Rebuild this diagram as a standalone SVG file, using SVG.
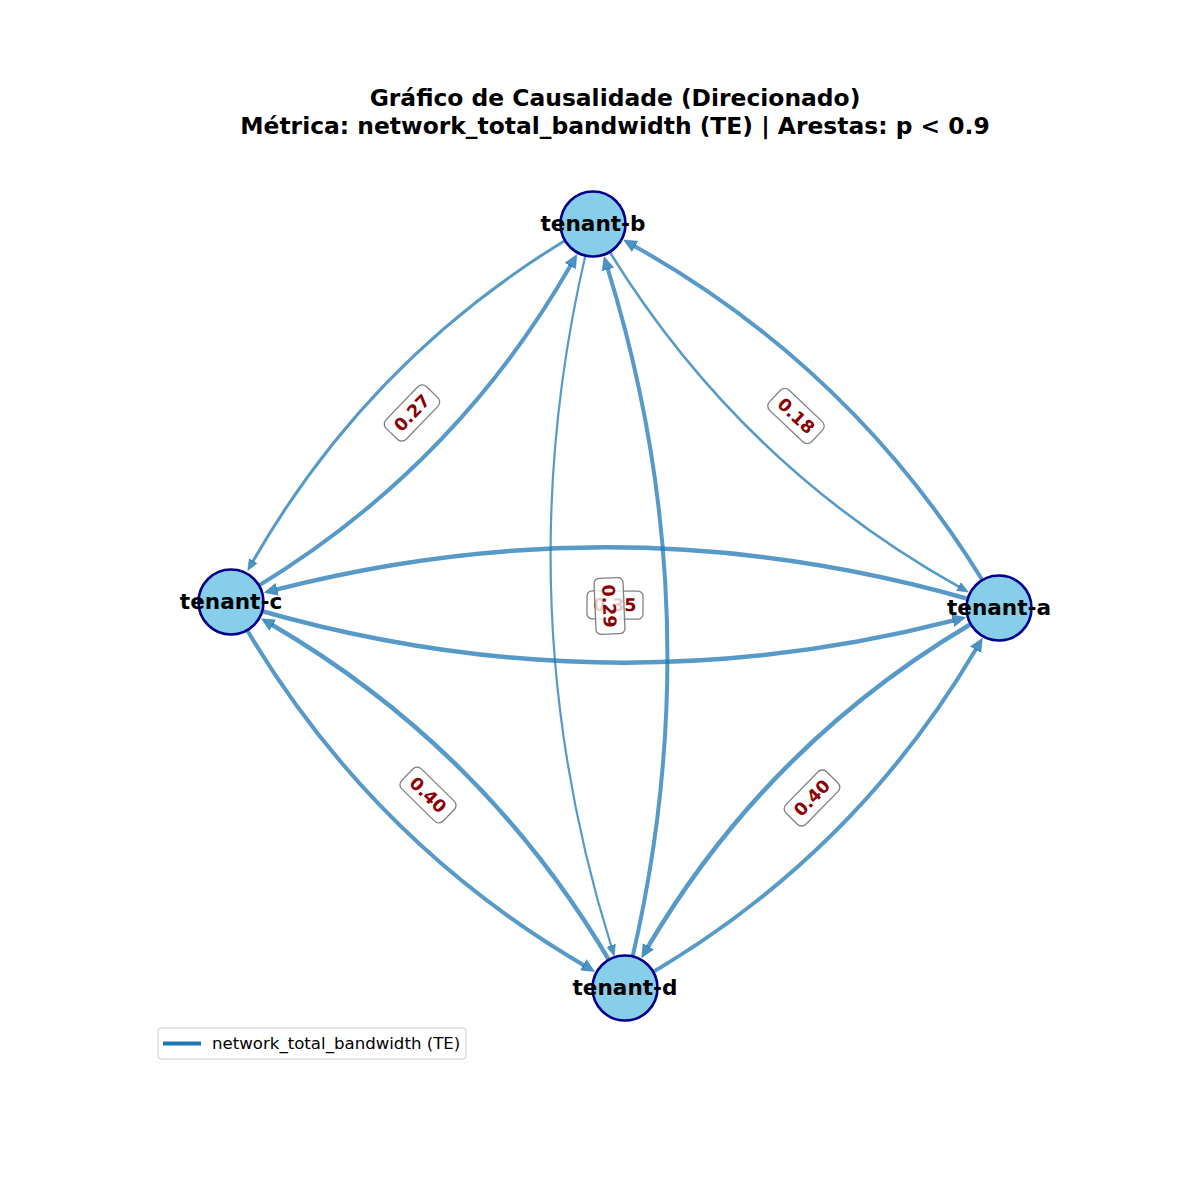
<svg xmlns="http://www.w3.org/2000/svg" width="1200" height="1200" viewBox="0 0 1200 1200">
  <style>
    .title { font-family: "DejaVu Sans", "Liberation Sans", sans-serif; font-weight: bold; font-size: 23.4px; fill: #000; text-anchor: middle; }
    .edge { fill: none; stroke: #1f77b4; stroke-opacity: 0.75; }
    .node circle { fill: #87ceeb; stroke: #00008b; stroke-width: 2.6; }
    .node text { font-family: "DejaVu Sans", "Liberation Sans", sans-serif; font-weight: bold; font-size: 21.6px; fill: #000; text-anchor: middle; }
    .elabel rect { fill: #ffffff; fill-opacity: 0.8; stroke: #808080; stroke-width: 1.3; }
    .elabel text { font-family: "DejaVu Sans", "Liberation Sans", sans-serif; font-weight: bold; font-size: 17.5px; fill: #8b0000; text-anchor: middle; }
    .legend text { font-family: "DejaVu Sans", "Liberation Sans", sans-serif; font-size: 16.6px; fill: #000; }
  </style>
  <defs>
    <marker id="headL" markerUnits="userSpaceOnUse" markerWidth="15" markerHeight="14" refX="1" refY="7" orient="auto" viewBox="0 0 15 14">
      <path d="M0,1 L13,7 L0,13 z" fill="#1f77b4" fill-opacity="0.8" stroke="#1f77b4" stroke-opacity="0.5" stroke-width="1" stroke-linejoin="round"/>
    </marker>
    <marker id="headS" markerUnits="userSpaceOnUse" markerWidth="13" markerHeight="12" refX="1" refY="6" orient="auto" viewBox="0 0 13 12">
      <path d="M0,1.5 L11,6 L0,10.5 z" fill="#1f77b4" fill-opacity="0.8" stroke="#1f77b4" stroke-opacity="0.5" stroke-width="1" stroke-linejoin="round"/>
    </marker>
  </defs>

  <rect width="1200" height="1200" fill="#ffffff"/>

  <text class="title" x="615" y="106">Gráfico de Causalidade (Direcionado)</text>
  <text class="title" x="615" y="134">Métrica: network_total_bandwidth (TE) | Arestas: p &lt; 0.9</text>

  <!-- directed edges, arc3 curves between node centres -->
  <g id="edges">
    <path id="e-a-c" class="edge" stroke-width="4.5" marker-end="url(#headL)" d="M999,608 Q638.4,496.7 276.1,589.6"/>
    <path id="e-c-a" class="edge" stroke-width="4.5" marker-end="url(#headL)" d="M231,602 Q591.6,713.3 953.9,620.4"/>
    <path id="e-b-c" class="edge" stroke-width="3" marker-end="url(#headS)" d="M593,224 Q375.3,347.4 252.7,561.8"/>
    <path id="e-c-b" class="edge" stroke-width="4" marker-end="url(#headL)" d="M231,602 Q448.3,478.9 570.8,265.1"/>
    <path id="e-b-a" class="edge" stroke-width="2.6" marker-end="url(#headS)" d="M593,224 Q727.2,457.4 959.5,587.1"/>
    <path id="e-a-b" class="edge" stroke-width="4" marker-end="url(#headL)" d="M999,608 Q865.3,375.5 634.2,245.9"/>
    <path id="e-b-d" class="edge" stroke-width="2.2" marker-end="url(#headS)" d="M593,224 Q499.8,589.5 611.3,946.4"/>
    <path id="e-d-b" class="edge" stroke-width="4" marker-end="url(#headL)" d="M625,988 Q717.8,624 607.6,268.4"/>
    <path id="e-c-d" class="edge" stroke-width="4" marker-end="url(#headL)" d="M231,602 Q358.7,833.5 584.2,965.4"/>
    <path id="e-d-c" class="edge" stroke-width="4.5" marker-end="url(#headL)" d="M625,988 Q497.3,756.5 271.9,624.7"/>
    <path id="e-a-d" class="edge" stroke-width="4.5" marker-end="url(#headL)" d="M999,608 Q775.6,730.6 647.8,947.2"/>
    <path id="e-d-a" class="edge" stroke-width="4" marker-end="url(#headL)" d="M625,988 Q848.4,865.4 976.2,648.8"/>
  </g>

  <!-- nodes -->
  <g id="node-tenant-a" class="node">
    <circle cx="999" cy="608" r="32.5"/>
    <text x="999" y="615">tenant-a</text>
  </g>
  <g id="node-tenant-b" class="node">
    <circle cx="593" cy="224" r="32.5"/>
    <text x="593" y="231">tenant-b</text>
  </g>
  <g id="node-tenant-c" class="node">
    <circle cx="231" cy="602" r="32.5"/>
    <text x="231" y="609">tenant-c</text>
  </g>
  <g id="node-tenant-d" class="node">
    <circle cx="625" cy="988" r="32.5"/>
    <text x="625" y="995">tenant-d</text>
  </g>

  <!-- edge weight labels at chord midpoints -->
  <g id="edge-labels">
    <g class="elabel" transform="translate(412,413) rotate(-46.2)">
      <rect x="-29" y="-14" width="58" height="28" rx="6"/>
      <text x="0" y="6">0.27</text>
    </g>
    <g class="elabel" transform="translate(796,416) rotate(43.4)">
      <rect x="-29" y="-14" width="58" height="28" rx="6"/>
      <text x="0" y="6">0.18</text>
    </g>
    <g class="elabel" transform="translate(428,795) rotate(44.4)">
      <rect x="-29" y="-14" width="58" height="28" rx="6"/>
      <text x="0" y="6">0.40</text>
    </g>
    <g class="elabel" transform="translate(812,798) rotate(-45.5)">
      <rect x="-29" y="-14" width="58" height="28" rx="6"/>
      <text x="0" y="6">0.40</text>
    </g>
    <g class="elabel" transform="translate(615,605) rotate(0.45)">
      <rect x="-28" y="-14" width="56" height="28" rx="5"/>
      <text x="0" y="6">0.35</text>
    </g>
    <g class="elabel" transform="translate(609,606) rotate(87.6)">
      <rect x="-28" y="-15" width="56" height="29" rx="5"/>
      <text x="0" y="6">0.29</text>
    </g>
  </g>

  <!-- legend -->
  <g id="legend" class="legend">
    <rect x="158" y="1028" width="308" height="31" rx="3" fill="#ffffff" fill-opacity="0.8" stroke="#cccccc" stroke-width="1"/>
    <line x1="163" y1="1043.5" x2="201" y2="1043.5" stroke="#1f77b4" stroke-width="4"/>
    <text x="212" y="1049">network_total_bandwidth (TE)</text>
  </g>
</svg>
